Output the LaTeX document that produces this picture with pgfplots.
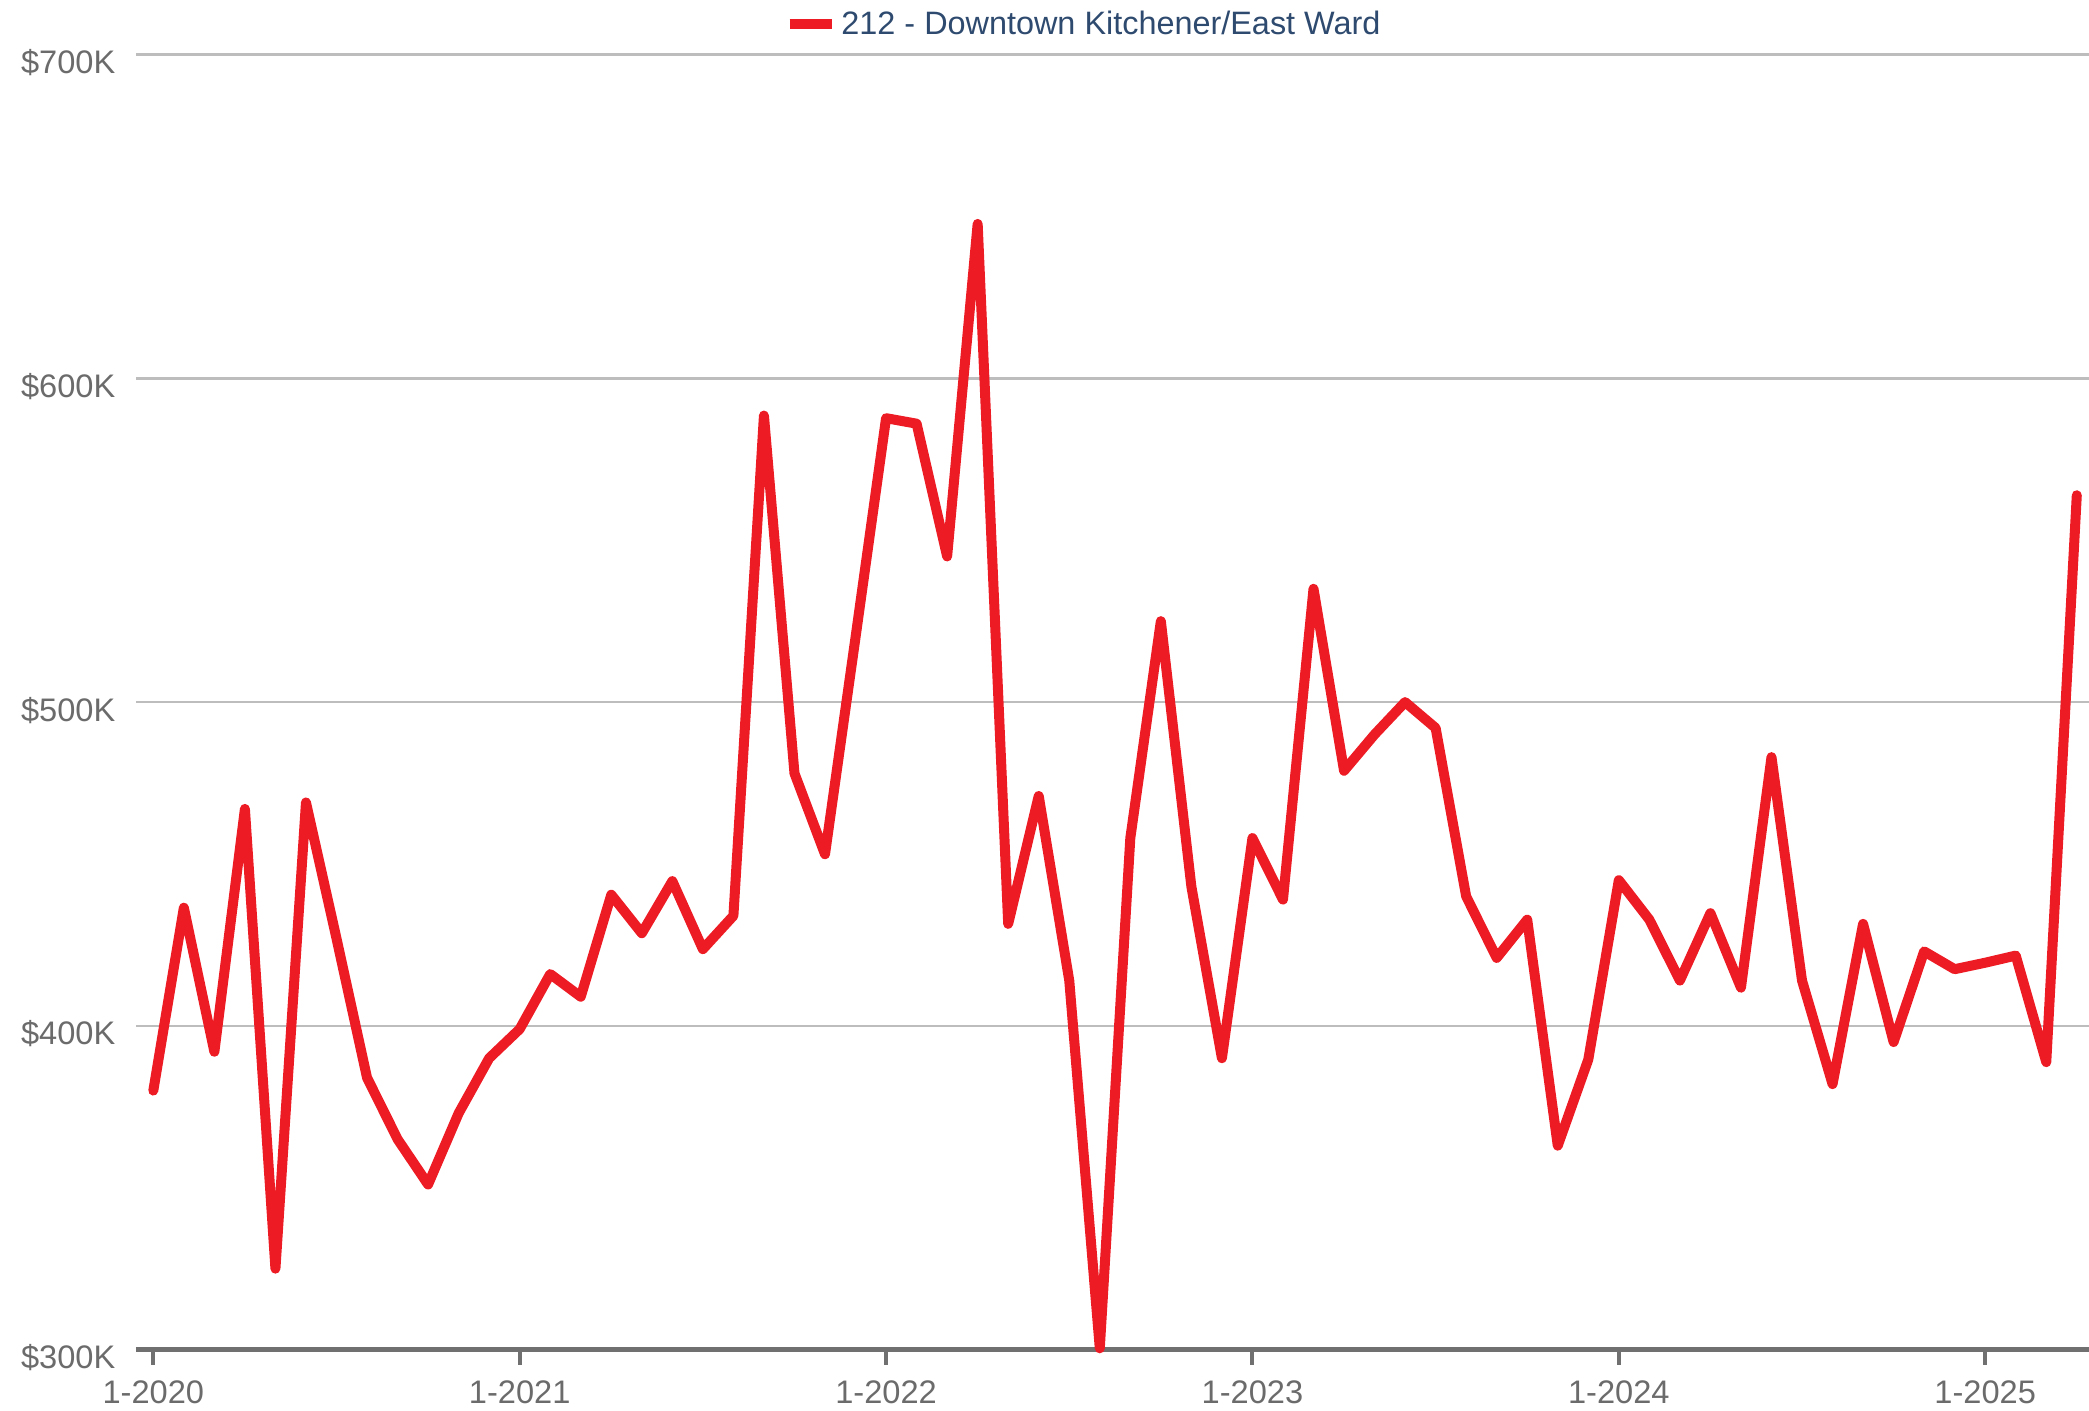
\documentclass[border=0pt]{standalone}
\usepackage{pgfplots}
\pgfplotsset{compat=1.18}
\usepackage{fontspec}
\setmainfont{Liberation Sans}
\definecolor{linered}{HTML}{ED1C24}
\definecolor{labgray}{HTML}{6B6B6B}
\definecolor{axgray}{HTML}{707070}
\definecolor{gridgray}{HTML}{BDBDBD}
\definecolor{legblue}{HTML}{2E4A6E}
\pgfplotstableread{
m v
0 380
1 436.5
2 392
3 467
4 325
5 469
6 427
7 384
8 365
9 351
10 373
11 390
12 399
13 416
14 409
15 440.5
16 428.6
17 444.7
18 423.7
19 434
20 588.5
21 478
22 453
23 520
24 587.7
25 586
26 545
27 647.7
28 431.5
29 471
30 414
31 300.4
32 458
33 525
34 443
35 390
36 458
37 439
38 535
39 478.8
40 490
41 500
42 492
43 440
44 421
45 432.8
46 363
47 389.6
48 445
49 432.8
50 414
51 434.8
52 411.8
53 483
54 414
55 382
56 431.5
57 395
58 423
59 417.5
60 419.5
61 421.7
62 388.8
63 563.9
}\datatable
\begin{document}
\begin{tikzpicture}
\path[use as bounding box] (0,0) rectangle (1044.5pt,705pt);
\begin{axis}[
  at={(68pt,30.2pt)}, anchor=south west,
  scale only axis, width=976.5pt, height=647.5pt,
  xmin=-0.567, xmax=63.4, ymin=300, ymax=700,
  clip=false,
  axis x line*=bottom, axis y line*=left,
  y axis line style={draw=none},
  x axis line style={draw=axgray, line width=2.7pt, -},
  xtick={0,12,24,36,48,60},
  xticklabels={1-2020,1-2021,1-2022,1-2023,1-2024,1-2025},
  ytick={300,400,500,600,700},
  yticklabels={\$300K,\$400K,\$500K,\$600K,\$700K},
  tick align=outside,
  xtick style={draw=axgray, line width=2pt},
  x tick label style={font=\fontsize{16.3}{19}\selectfont, text=labgray, yshift=-4.7pt},
  ytick style={draw=none},
  y tick label style={font=\fontsize{16.3}{19}\selectfont, text=labgray, yshift=-4pt, xshift=0.7pt},
  major tick length=7.5pt,
  ymajorgrids,
  grid style={draw=gridgray, line width=1.2pt},
  legend style={draw=none, fill=none, at={(0.4856,1.0235)}, anchor=center,
    font=\fontsize{16.2}{19}\selectfont, text=legblue},
  legend image code/.code={\draw[#1, line width=5.3pt, line cap=butt] (0pt,0pt) -- (21.3pt,0pt);},
]
\addplot[draw=linered, line width=5pt, line join=round, line cap=round, no marks] table[x=m, y=v] {\datatable};
\addlegendentry{212 - Downtown Kitchener/East Ward}
\end{axis}
\end{tikzpicture}
\end{document}
